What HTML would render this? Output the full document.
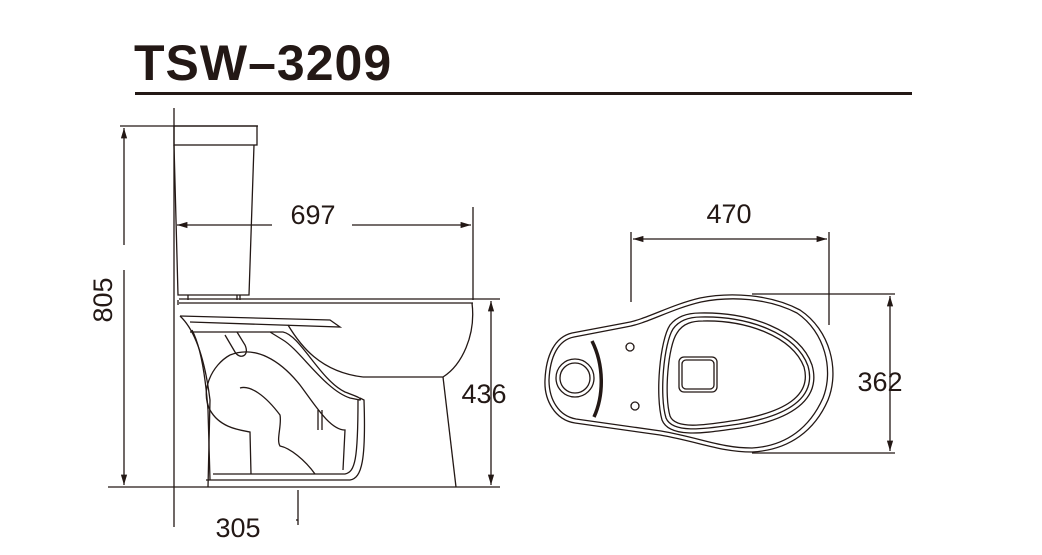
<!DOCTYPE html>
<html><head><meta charset="utf-8"><style>
html,body{margin:0;padding:0;background:#fff;}
svg{display:block;}
text{font-family:"Liberation Sans",sans-serif;fill:#231815;}
</style></head><body>
<svg width="1042" height="555" viewBox="0 0 1042 555" xmlns="http://www.w3.org/2000/svg">
<defs>
<marker id="a" viewBox="0 0 10 6" refX="10" refY="3" markerWidth="8" markerHeight="5" orient="auto-start-reverse"><path d="M0,0L10,3L0,6z" fill="#231815"/></marker>
</defs>
<text x="134" y="80" font-size="50" font-weight="bold" letter-spacing="1">TSW–3209</text>
<rect x="135" y="92" width="777" height="3" fill="#231815"/>

<g fill="none" stroke="#231815" stroke-width="1.3">
<!-- wall & floor -->
<path d="M174,108V527"/>
<path d="M108,487H500"/>
<!-- 805 -->
<path d="M120,126H258"/>
<path d="M124,245V128" marker-end="url(#a)"/>
<path d="M124,270V485" marker-end="url(#a)"/>
<!-- tank -->
<rect x="174" y="126" width="83" height="19"/>
<path d="M174,145L178,295H249L254,145"/>
<path d="M188,295V300M237,295V300M240,295V300"/>
<path d="M179,299H500M179,303H473"/>
<path d="M178,300V305"/>
<!-- 697 -->
<path d="M272,225H177" marker-end="url(#a)"/>
<path d="M352,225H471" marker-end="url(#a)"/>
<path d="M473,207V300"/>
<!-- bowl -->
<path d="M472,303C476,335 462,365 443,377H363"/>
<path d="M443,377L456,487"/>
<path d="M180,316L330,320L340,327L190,322"/>
<path d="M180,316C195,330 205,360 210,400L208,487"/>
<path d="M192,330C200,345 205,370 208,410L210,480"/>
<path d="M206,480H350C362,478 366,460 364,400L360,398"/>
<path d="M213,474H345C355,472 358,460 358,400"/>
<path d="M190,332H283C300,335 320,380 345,392C355,396 362,398 360,400L350,398C325,390 300,350 283,340L270,332"/>
<path d="M288,325C300,345 320,372 363,377"/>
<!-- trapway -->
<path d="M230,355C212,365 200,390 210,410C220,428 240,430 250,432L251,474"/>
<path d="M230,355C255,345 280,360 300,385C315,405 330,430 345,430L343,470"/>
<path d="M240,388C250,385 265,395 280,415C282,425 276,440 280,446C290,448 305,460 315,474"/>
<path d="M225,335L235,352C240,360 250,356 245,345L237,332"/>
<path d="M318,410V430M322,410V430"/>
<!-- 436 -->
<path d="M491,303V485" marker-end="url(#a)"/>
<path d="M491,303V301" marker-end="url(#a)"/>
<!-- 305 -->
<path d="M298,490V525"/>
<path d="M298,520H296"/>
</g>
<text x="313" y="224" font-size="27" text-anchor="middle">697</text>
<text x="484" y="403" font-size="27" text-anchor="middle">436</text>
<text x="238" y="537" font-size="27" text-anchor="middle">305</text>
<text transform="translate(112,300) rotate(-90)" font-size="27" text-anchor="middle">805</text>

<!-- top view -->
<g fill="none" stroke="#231815" stroke-width="1.3">
<path d="M631,302V232M829,325V232"/>
<path d="M633,239H827" marker-end="url(#a)" marker-start="url(#a)"/>
<path d="M752,294H895M752,453H895"/>
<path d="M890,296V451" marker-end="url(#a)" marker-start="url(#a)"/>
<path d="M572,333L625,323C645,320 670,305 700,298C730,292 770,294 800,310C830,330 840,370 828,400C815,430 790,450 752,452C720,452 700,442 660,435L575,423C555,420 544,400 545,380C546,355 555,337 572,333Z"/>
<path d="M574,337L626,327C646,324 671,309 701,302C731,296 768,298 797,313C825,332 834,370 823,398C810,427 787,446 752,448C721,448 701,438 661,431L576,419C559,416 549,400 549,380C550,357 558,340 574,337Z"/>
<circle cx="575" cy="378" r="19"/>
<circle cx="575" cy="378" r="15"/>
<circle cx="630" cy="347" r="4"/>
<circle cx="635" cy="406" r="4"/>
<path d="M700,313C750,312 800,330 812,365C822,400 790,420 740,428C710,432 670,440 662,420C655,395 660,340 670,325C678,315 690,313 700,313Z"/>
<path d="M701,317C748,316 796,333 808,366C817,398 787,416 739,424C710,428 673,435 666,418C659,395 664,343 673,329C680,319 691,317 701,317Z"/>
<path d="M703,321C746,320 792,336 804,367C812,396 784,412 738,420C711,424 676,431 670,416C664,395 668,346 677,333C683,323 693,321 703,321Z"/>
<rect x="679" y="357" width="38" height="35" rx="5"/>
<rect x="682" y="360" width="32" height="29" rx="4"/>
</g>
<path d="M592,341C604,365 604,395 594,417" fill="none" stroke="#231815" stroke-width="3.5"/>
<text x="729" y="223" font-size="27" text-anchor="middle">470</text>
<text x="880" y="391" font-size="27" text-anchor="middle">362</text>
</svg>
</body></html>
